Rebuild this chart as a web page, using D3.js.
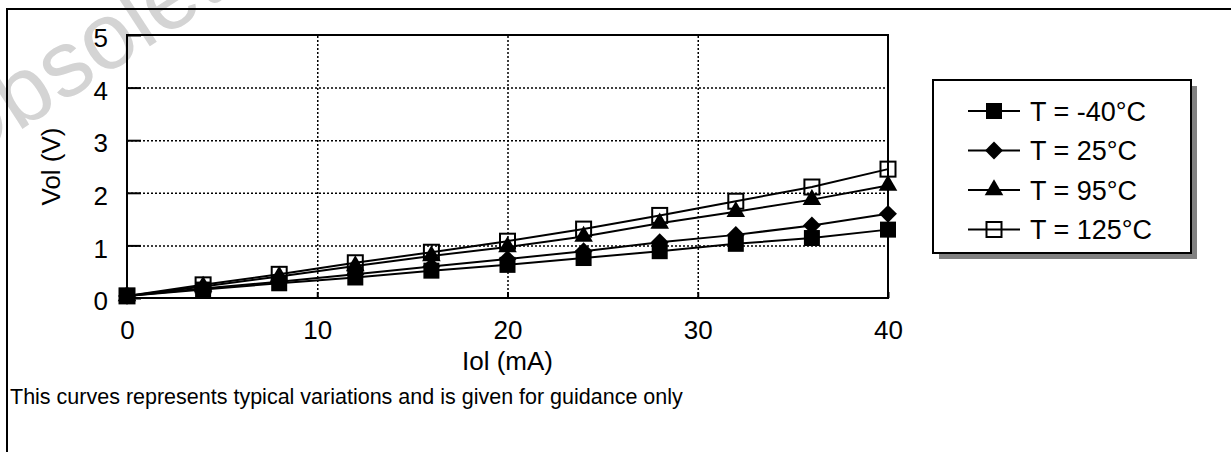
<!DOCTYPE html>
<html>
<head>
<meta charset="utf-8">
<script src="https://cdn.jsdelivr.net/npm/d3@7"></script>
<style>
  body { margin: 0; background: #fff; }
  text { font-family: "Liberation Sans", Arial, sans-serif; fill: #000; }
</style>
</head>
<body>
<div class="chart"></div>
<script>
// data
var iol = [0, 4, 8, 12, 16, 20, 24, 28, 32, 36, 40];
var volM40 = [0.04, 0.16, 0.28, 0.39, 0.52, 0.63, 0.76, 0.89, 1.03, 1.14, 1.30];
var vol25 = [0.04, 0.18, 0.31, 0.45, 0.60, 0.74, 0.89, 1.06, 1.20, 1.38, 1.60];
var vol95 = [0.04, 0.22, 0.41, 0.61, 0.80, 0.97, 1.17, 1.42, 1.64, 1.87, 2.14];
var vol125 = [0.04, 0.25, 0.45, 0.67, 0.87, 1.08, 1.31, 1.57, 1.84, 2.11, 2.45];
var seriesNames = ["T = -40\u00b0C", "T = 25\u00b0C", "T = 95\u00b0C", "T = 125\u00b0C"];
var markerKinds = ["square", "diamond", "triangle", "open"];
var xTicks = [0, 10, 20, 30, 40];
var yTicks = [0, 1, 2, 3, 4, 5];

var svgW = 1231;
var svgH = 452;
var plot = { left: 127, right: 888, top: 35, bottom: 298 };

var svg = d3.select(".chart")
    .append("svg")
    .attr("width", svgW)
    .attr("height", svgH);

// watermark behind everything
svg.append("text")
    .attr("transform", "translate(-44,172) rotate(-33)")
    .style("font-size", "94px")
    .style("fill", "#d4d4d4")
    .text("Obsolete Product(s)");

// outer frame (only top and left edges show)
svg.append("path")
    .attr("d", "M7," + svgH + "V9H" + svgW)
    .attr("fill", "none")
    .attr("stroke", "#000")
    .attr("stroke-width", 2);

var x = d3.scaleLinear().domain([0, 40]).range([plot.left, plot.right]);
var y = d3.scaleLinear().domain([0, 5]).range([plot.bottom, plot.top]);
var chartW = plot.right - plot.left;
var chartH = plot.bottom - plot.top;

// dotted grid
svg.append("g")
    .attr("class", "grid")
    .attr("transform", "translate(" + plot.left + ",0)")
    .call(d3.axisLeft(y).tickValues([1, 2, 3, 4]).tickSize(-chartW).tickFormat(""));
svg.append("g")
    .attr("class", "grid")
    .attr("transform", "translate(0," + plot.bottom + ")")
    .call(d3.axisBottom(x).tickValues([10, 20, 30]).tickSize(-chartH).tickFormat(""));
svg.selectAll(".grid .domain").remove();
svg.selectAll(".grid line")
    .attr("stroke", "#000")
    .attr("stroke-width", 1.5)
    .attr("stroke-dasharray", "2,2");

// inner tick marks + labels
var yAxis = svg.append("g")
    .attr("transform", "translate(" + plot.left + ",0)")
    .call(d3.axisLeft(y).tickValues(yTicks).tickSize(-14).tickPadding(19).tickFormat(d3.format("d")));
var xAxis = svg.append("g")
    .attr("transform", "translate(0," + plot.bottom + ")")
    .call(d3.axisBottom(x).tickValues(xTicks).tickSize(-6).tickPadding(23).tickFormat(d3.format("d")));
[yAxis, xAxis].forEach(function(g) {
    g.select(".domain").remove();
    g.selectAll("line").attr("stroke", "#000").attr("stroke-width", 2);
    g.selectAll("text")
        .attr("fill", "#000")
        .style("font-family", "'Liberation Sans', Arial, sans-serif")
        .style("font-size", "26px");
});
yAxis.selectAll("text").attr("dy", "0.45em");
xAxis.selectAll("text").attr("dy", "0.71em");

// plot frame
svg.append("rect")
    .attr("x", plot.left)
    .attr("y", plot.top)
    .attr("width", chartW)
    .attr("height", chartH)
    .attr("fill", "none")
    .attr("stroke", "#000")
    .attr("stroke-width", 2);

function drawMarker(g, kind, cx, cy) {
    if (kind == "square") {
        g.append("rect")
            .attr("x", cx - 8).attr("y", cy - 8)
            .attr("width", 16).attr("height", 16)
            .attr("fill", "#000");
    } else if (kind == "diamond") {
        g.append("path")
            .attr("d", d3.symbol(d3.symbolSquare, 160)())
            .attr("transform", "translate(" + cx + "," + cy + ") rotate(45)")
            .attr("fill", "#000");
    } else if (kind == "triangle") {
        g.append("path")
            .attr("d", d3.symbol(d3.symbolTriangle, 150)())
            .attr("transform", "translate(" + cx + "," + cy + ")")
            .attr("fill", "#000");
    } else {
        g.append("rect")
            .attr("x", cx - 7.5).attr("y", cy - 7.5)
            .attr("width", 15).attr("height", 15)
            .attr("fill", "none")
            .attr("stroke", "#000")
            .attr("stroke-width", 2);
    }
}

var allSeries = [volM40, vol25, vol95, vol125];
var line = d3.line()
    .x(function(d) { return x(d[0]); })
    .y(function(d) { return y(d[1]); });

allSeries.forEach(function(vals, i) {
    var pts = iol.map(function(v, j) { return [v, vals[j]]; });
    var g = svg.append("g");
    g.append("path")
        .attr("d", line(pts))
        .attr("fill", "none")
        .attr("stroke", "#000")
        .attr("stroke-width", 2);
    pts.forEach(function(p) {
        drawMarker(g, markerKinds[i], x(p[0]), y(p[1]));
    });
});

// axis titles
svg.append("text")
    .attr("transform", "translate(60," + ((plot.top + plot.bottom) / 2) + ") rotate(-90)")
    .attr("text-anchor", "middle")
    .style("font-size", "26px")
    .text("Vol (V)");
svg.append("text")
    .attr("x", (plot.left + plot.right) / 2)
    .attr("y", 370)
    .attr("text-anchor", "middle")
    .style("font-size", "26px")
    .text("Iol (mA)");

// legend with shadow
var legend = { x: 933, y: 80, w: 258, h: 173 };
svg.append("rect")
    .attr("x", legend.x + 6).attr("y", legend.y + 6)
    .attr("width", legend.w).attr("height", legend.h)
    .attr("fill", "#808080");
svg.append("rect")
    .attr("x", legend.x).attr("y", legend.y)
    .attr("width", legend.w).attr("height", legend.h)
    .attr("fill", "#fff")
    .attr("stroke", "#000")
    .attr("stroke-width", 2);

seriesNames.forEach(function(name, i) {
    var cy = 111 + i * 39.5;
    var g = svg.append("g");
    g.append("line")
        .attr("x1", 968).attr("x2", 1020)
        .attr("y1", cy).attr("y2", cy)
        .attr("stroke", "#000")
        .attr("stroke-width", 2);
    drawMarker(g, markerKinds[i], 994, cy);
    g.append("text")
        .attr("x", 1030)
        .attr("y", cy + 9.7)
        .style("font-size", "27px")
        .text(name);
});

// footnote
svg.append("text")
    .attr("x", 10)
    .attr("y", 404)
    .style("font-size", "21.5px")
    .text("This curves represents typical variations and is given for guidance only");
</script>
</body>
</html>
